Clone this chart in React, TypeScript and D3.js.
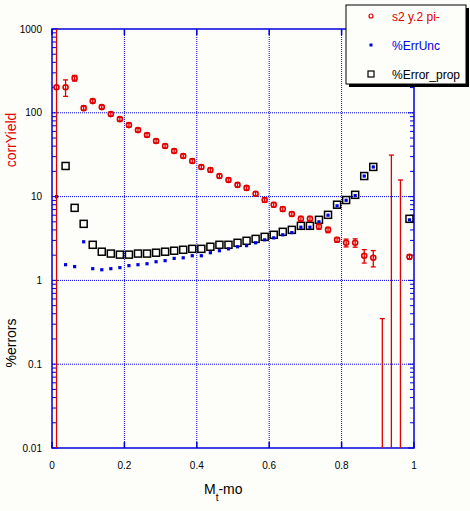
import * as d3 from 'd3'

// bin centres of M_t - mo
const mBins = [
  0.0125, 0.0375, 0.0625, 0.0875, 0.1125, 0.1375, 0.1625, 0.1875, 0.2125, 0.2375,
  0.2625, 0.2875, 0.3125, 0.3375, 0.3625, 0.3875, 0.4125, 0.4375, 0.4625, 0.4875,
  0.5125, 0.5375, 0.5625, 0.5875, 0.6125, 0.6375, 0.6625, 0.6875, 0.7125, 0.7375,
  0.7625, 0.7875, 0.8125, 0.8375, 0.8625, 0.8875, 0.9125, 0.9375, 0.9625, 0.9875,
]

// s2 y.2 pi-  (corrYield), 0 = not drawn on log axis
const corrYield = [
  202, 202, 259, 113.7, 138, 117, 96.5, 84, 71.3, 62.2,
  54.3, 46, 40.2, 35, 30.5, 26.6, 22.6, 20.8, 17.6, 15.8,
  13.8, 12.7, 10.8, 9.1, 8.0, 7.1, 6.2, 5.43, 5.43, 4.39,
  4.01, 3.05, 2.81, 2.81, 1.97, 1.86, 0, 0, 0, 1.91,
]
const corrYieldErr = [
  1500, 45, 20, 7, 7, 6, 5, 4.5, 4, 3.4,
  3, 2.6, 2.2, 2, 1.7, 1.5, 1.3, 1.2, 1, 0.9,
  0.8, 0.75, 0.65, 0.55, 0.5, 0.45, 0.4, 0.38, 0.38, 0.32,
  0.3, 0.2, 0.3, 0.32, 0.36, 0.41, 0.35, 31.3, 15.8, 0.12,
]

// %ErrUnc
const errUnc = [
  10, 1.54, 1.46, 2.89, 1.38, 1.34, 1.38, 1.42, 1.5, 1.54,
  1.58, 1.67, 1.72, 1.83, 1.86, 1.97, 1.97, 2.14, 2.26, 2.38,
  2.52, 2.6, 2.81, 3.05, 3.22, 3.5, 3.72, 4.31, 4.31, 5.0,
  6.0, 7.75, 9.04, 10.3, 17.6, 22.6, null, null, null, 5.28,
]

// %Error_prop
const errProp = [
  null, 23.2, 7.34, 4.73, 2.66, 2.2, 2.09, 2.03, 2.03, 2.09,
  2.09, 2.14, 2.2, 2.26, 2.32, 2.38, 2.38, 2.52, 2.66, 2.66,
  2.81, 2.97, 3.13, 3.31, 3.5, 3.8, 4.01, 4.48, 4.48, 5.28,
  6.06, 8.0, 9.1, 10.5, 17.6, 22.6, null, null, null, 5.43,
]

const xTicks = [0, 0.2, 0.4, 0.6, 0.8, 1]
const xTickLabels = ['0', '0.2', '0.4', '0.6', '0.8', '1']
const yTicks = [0.01, 0.1, 1, 10, 100, 1000]
const yTickLabels = ['0.01', '0.1', '1', '10', '100', '1000']

const legendItems = [
  { label: 's2 y.2 pi-', kind: 'circle', color: '#dd0000' },
  { label: '%ErrUnc', kind: 'fill', color: '#0000dd' },
  { label: '%Error_prop', kind: 'square', color: '#000000' },
]

const W = 470
const H = 511
const margin = { top: 29, right: 56, bottom: 63, left: 52 }
const BLUE = '#0000dd'
const RED = '#e00000'
const BG = '#fdfdf9'
const FONT = '"Liberation Sans", Arial, Helvetica, sans-serif'

export default function App() {
  const innerW = W - margin.left - margin.right
  const innerH = H - margin.top - margin.bottom

  const x = d3.scaleLinear().domain([0, 1]).range([0, innerW])
  const y = d3.scaleLog().domain([0.01, 1000]).range([innerH, 0])
  const yc = (v: number) => (v <= 0 ? innerH + 50 : Math.max(-50, Math.min(innerH + 50, y(v))))

  // minor ticks 2..9 per decade
  const minor: number[] = []
  for (let e = -2; e < 3; e++) {
    for (let k = 2; k <= 9; k++) minor.push(k * Math.pow(10, e))
  }

  return (
    <svg width={W} height={H} style={{ position: 'absolute', left: 0, top: 0, background: BG }}
      fontFamily={FONT}>
      <defs>
        <clipPath id="plotClip">
          <rect x={0} y={0} width={innerW} height={innerH} />
        </clipPath>
      </defs>
      <g transform={`translate(${margin.left},${margin.top})`}>
        {/* grid */}
        {xTicks.slice(1, -1).map(t => (
          <line key={'gx' + t} x1={x(t)} x2={x(t)} y1={0} y2={innerH}
            stroke={BLUE} strokeDasharray="1,1" />
        ))}
        {yTicks.slice(1, -1).map(t => (
          <line key={'gy' + t} x1={0} x2={innerW} y1={y(t)} y2={y(t)}
            stroke={BLUE} strokeDasharray="1,1" />
        ))}

        {/* frame */}
        <rect x={0} y={0} width={innerW} height={innerH} fill="none" stroke={BLUE} strokeWidth={1.5} />

        {/* y ticks, both sides */}
        {minor.map(t => (
          <g key={'my' + t}>
            <line x1={0} x2={4} y1={y(t)} y2={y(t)} stroke={BLUE} />
            <line x1={innerW - 4} x2={innerW} y1={y(t)} y2={y(t)} stroke={BLUE} />
          </g>
        ))}
        {yTicks.map(t => (
          <g key={'Ty' + t}>
            <line x1={0} x2={6} y1={y(t)} y2={y(t)} stroke={BLUE} />
            <line x1={innerW - 6} x2={innerW} y1={y(t)} y2={y(t)} stroke={BLUE} />
          </g>
        ))}
        {/* x ticks, top and bottom */}
        {xTicks.map(t => (
          <g key={'Tx' + t}>
            <line x1={x(t)} x2={x(t)} y1={innerH} y2={innerH - 6} stroke={BLUE} strokeWidth={1.5} />
            <line x1={x(t)} x2={x(t)} y1={0} y2={6} stroke={BLUE} strokeWidth={1.5} />
          </g>
        ))}

        {/* tick labels */}
        {yTicks.map((t, i) => (
          <text key={'ly' + t} x={-10} y={y(t) + 3.5} textAnchor="end" fontSize={10} fill="#000">
            {yTickLabels[i]}
          </text>
        ))}
        {xTicks.map((t, i) => (
          <text key={'lx' + t} x={x(t)} y={innerH + 21} textAnchor="middle" fontSize={10} fill="#000">
            {xTickLabels[i]}
          </text>
        ))}

        <g clipPath="url(#plotClip)">
          {/* %Error_prop */}
          {errProp.map((v, i) => v == null ? null : (
            <rect key={'p' + i} x={x(mBins[i]) - 3.5} y={y(v) - 3.5} width={7} height={7}
              fill="none" stroke="#000" strokeWidth={1.5} />
          ))}
          {/* %ErrUnc */}
          {errUnc.map((v, i) => v == null ? null : (
            <rect key={'u' + i} x={x(mBins[i]) - 1.6} y={y(v) - 1.6} width={3.2} height={3.2} fill={BLUE} />
          ))}
          {/* corrYield with error bars */}
          {corrYield.map((v, i) => {
            const cx = x(mBins[i])
            const hi = yc(v + corrYieldErr[i])
            const lo = yc(v - corrYieldErr[i])
            return (
              <g key={'c' + i} stroke={RED} fill="none">
                {v > 0 && <circle cx={cx} cy={y(v)} r={2.5} strokeWidth={1.6} fill={BG} />}
                <line x1={cx} x2={cx} y1={hi} y2={lo} strokeWidth={1.3} />
                <line x1={cx - 2.5} x2={cx + 2.5} y1={hi} y2={hi} strokeWidth={1.3} />
                <line x1={cx - 2.5} x2={cx + 2.5} y1={lo} y2={lo} strokeWidth={1.3} />
              </g>
            )
          })}
        </g>
      </g>

      {/* axis titles */}
      <text transform="translate(16,140) rotate(-90)" textAnchor="middle" fontSize={14} fill={RED}>corrYield</text>
      <text transform="translate(16,343) rotate(-90)" textAnchor="middle" fontSize={14} fill="#000">%errors</text>
      <text x={204} y={494} fontSize={14} fill="#000">
        M<tspan fontSize={10} dy={7}>t</tspan><tspan dy={-7}>-mo</tspan>
      </text>

      {/* legend */}
      <g>
        <rect x={349} y={8} width={120} height={79} fill="#000" />
        <rect x={346} y={5} width={120} height={79} fill={BG} stroke="#000" />
        {legendItems.map((d, i) => {
          const cy = 16 + i * 29
          return (
            <g key={d.label}>
              {d.kind === 'circle' && <circle cx={371} cy={cy} r={2} fill="none" stroke={d.color} strokeWidth={1.2} />}
              {d.kind === 'fill' && <rect x={369.5} y={cy - 1.5} width={3} height={3} fill={d.color} />}
              {d.kind === 'square' && <rect x={368} y={cy - 3} width={6} height={6} fill="none" stroke={d.color} strokeWidth={1.2} />}
              <text x={392} y={cy + 4.5} fontSize={12} fill={d.color}>{d.label}</text>
            </g>
          )
        })}
      </g>
    </svg>
  )
}
